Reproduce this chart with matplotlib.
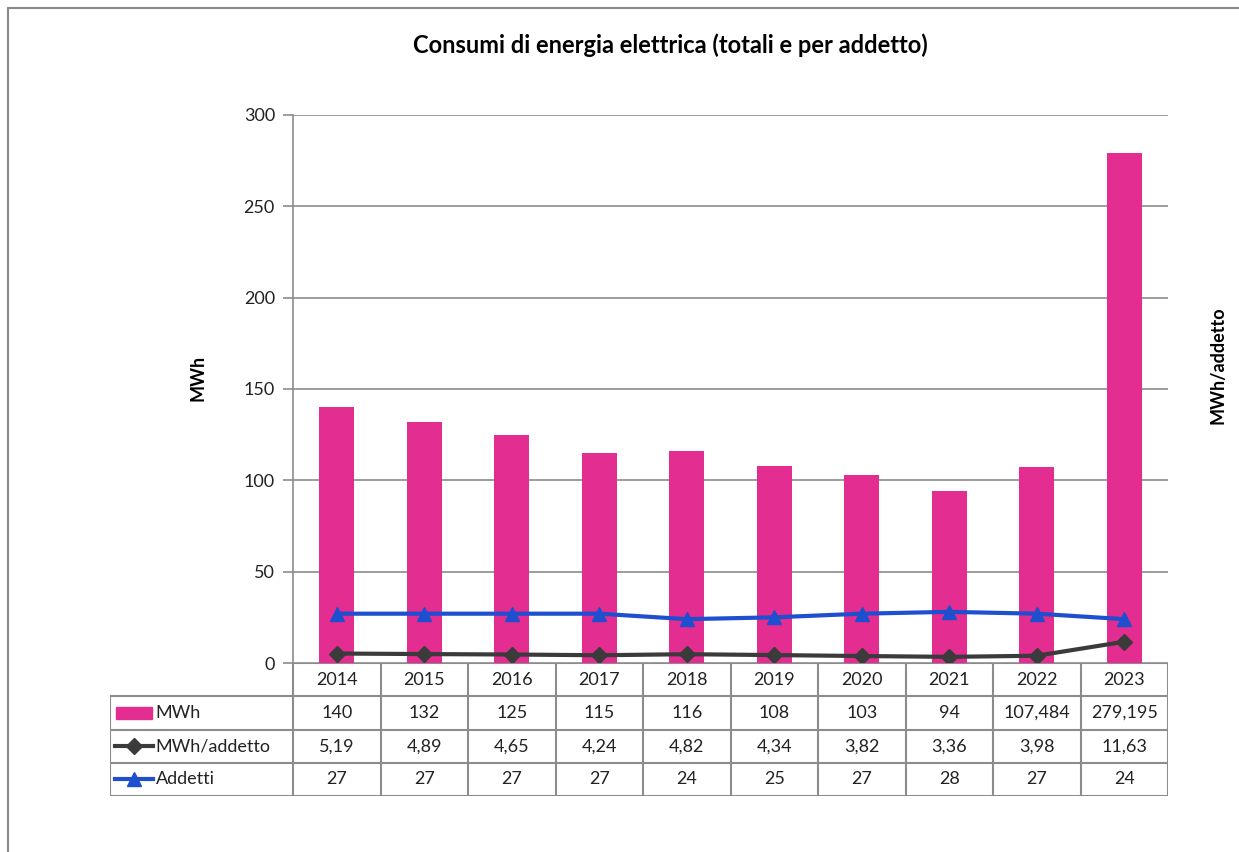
import matplotlib
matplotlib.use("Agg")
import matplotlib.pyplot as plt
from matplotlib.patches import Rectangle
import numpy as np

plt.rcParams['font.family'] = ['Lato', 'DejaVu Sans']

# ---- data ----
years = ["2014", "2015", "2016", "2017", "2018", "2019", "2020", "2021", "2022", "2023"]
mwh = [140, 132, 125, 115, 116, 108, 103, 94, 107.484, 279.195]
mwh_per_addetto = [5.19, 4.89, 4.65, 4.24, 4.82, 4.34, 3.82, 3.36, 3.98, 11.63]
addetti = [27, 27, 27, 27, 24, 25, 27, 28, 27, 24]

mwh_labels = ["140", "132", "125", "115", "116", "108", "103", "94", "107,484", "279,195"]
ratio_labels = ["5,19", "4,89", "4,65", "4,24", "4,82", "4,34", "3,82", "3,36", "3,98", "11,63"]
addetti_labels = [str(v) for v in addetti]

PINK = "#E32D91"
DARK = "#3B3B3B"
BLUE = "#1D4FCF"
GRID = "#8C8C8C"

W, H = 1239, 852
fig = plt.figure(figsize=(W / 100, H / 100), dpi=100)
fig.patch.set_facecolor("white")

def fx(px):
    return px / W

def fy(py):
    return 1 - py / H

# outer frame
fig.add_artist(Rectangle((fx(8), fy(900)), fx(1300), fy(8) - fy(900),
                         transform=fig.transFigure, fill=False,
                         edgecolor="#8A8A8A", linewidth=1.5))

# main plot area
left, right, top, bottom = 293, 1168, 115, 663
ax = fig.add_axes([fx(left), fy(bottom), fx(right - left), fy(top) - fy(bottom)])
x = np.arange(len(years))

ax.bar(x, mwh, width=0.4, color=PINK, zorder=2)
ax.plot(x, mwh_per_addetto, color=DARK, linewidth=3, marker="D", markersize=8, zorder=3)
ax.plot(x, addetti, color=BLUE, linewidth=3, marker="^", markersize=10, zorder=3)

ax.set_xlim(-0.5, len(years) - 0.5)
ax.set_ylim(0, 300)
ax.set_yticks(range(0, 301, 50))
ax.set_xticks([])
ax.grid(axis="y", color=GRID, linewidth=1.2, zorder=0)
for s in ["top", "right", "bottom"]:
    ax.spines[s].set_visible(False)
ax.spines["left"].set_color(GRID)
ax.spines["left"].set_linewidth(1.2)
ax.tick_params(axis="y", length=7, width=1.2, color=GRID, labelsize=13, pad=6, labelcolor="#222222")

fig.text(fx(670), fy(45), "Consumi di energia elettrica (totali e per addetto)",
         ha="center", va="center", fontsize=17, fontweight="bold")
fig.text(fx(198), fy(378), "MWh", rotation=90, ha="center", va="center",
         fontsize=13, fontweight="bold")
fig.text(fx(1218), fy(365), "MWh/addetto", rotation=90, ha="center", va="center",
         fontsize=13, fontweight="bold")

# data table under the plot
tab_left, tab_bottom = 110, 796
n = len(years)
ext = (left - tab_left) / ((right - left) / n)
tax = fig.add_axes([fx(tab_left), fy(tab_bottom), fx(right - tab_left), fy(bottom) - fy(tab_bottom)])
tax.set_xlim(-0.5 - ext, n - 0.5)
tax.set_ylim(4, 0)
tax.axis("off")

lk = dict(color=GRID, linewidth=1.5, solid_capstyle="projecting")
# horizontal lines
tax.plot([-0.5, n - 0.5], [0, 0], **lk)
for r in [1, 2, 3, 4]:
    tax.plot([-0.5 - ext, n - 0.5], [r, r], **lk)
# vertical lines
tax.plot([-0.5 - ext, -0.5 - ext], [1, 4], **lk)
for c in range(n + 1):
    tax.plot([c - 0.5, c - 0.5], [0, 4], **lk)

rows = [years, mwh_labels, ratio_labels, addetti_labels]
for r, labels in enumerate(rows):
    for c, t in enumerate(labels):
        tax.text(c, r + 0.5, t, ha="center", va="center", fontsize=13, color="#222222")

# row headers with legend keys
x0 = -0.5 - ext
kx0, kx1 = x0 + 0.06, x0 + 0.49
tax.add_patch(Rectangle((x0 + 0.07, 1.32), 0.41, 0.36, color=PINK))
tax.plot([kx0, kx1], [2.5, 2.5], color=DARK, linewidth=3)
tax.plot([(kx0 + kx1) / 2], [2.5], color=DARK, marker="D", markersize=8)
tax.plot([kx0, kx1], [3.5, 3.5], color=BLUE, linewidth=3)
tax.plot([(kx0 + kx1) / 2], [3.5], color=BLUE, marker="^", markersize=10)
for r, name in zip([1, 2, 3], ["MWh", "MWh/addetto", "Addetti"]):
    tax.text(x0 + 0.52, r + 0.5, name, ha="left", va="center", fontsize=13, color="#222222")

fig.savefig("out.png", dpi=100)
